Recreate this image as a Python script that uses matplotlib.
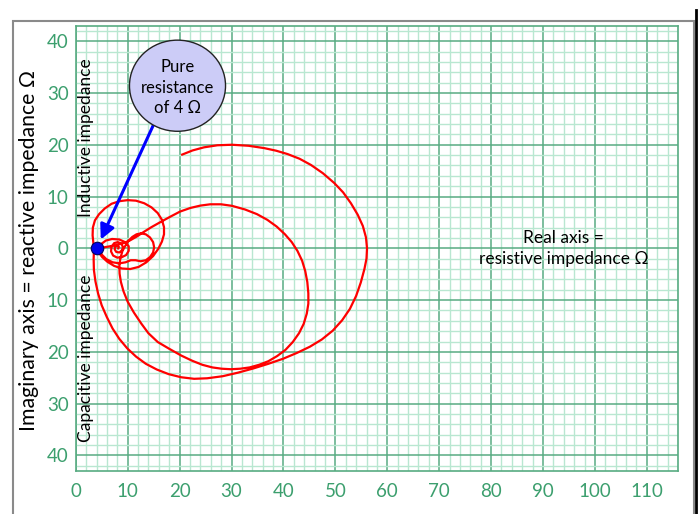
import matplotlib
matplotlib.use("Agg")
import matplotlib.pyplot as plt
from matplotlib.patches import Ellipse, Rectangle
from matplotlib.lines import Line2D
from matplotlib.ticker import MultipleLocator, FixedLocator

# impedance trace (ohms)
outer_x = [20.5, 22.5, 24.7, 27.3, 30.1, 33.3, 36.3, 38.6, 40.8, 43.1, 45.3, 47.6, 49.8, 51.5,
           53.0, 54.3, 55.3, 55.9, 56.1, 56.0, 55.6, 54.9, 54.0, 52.8, 51.3, 49.5, 47.4, 45.1,
           42.6, 40.0, 37.1, 34.2, 31.3, 28.3, 25.3, 22.8, 20.3, 17.9, 15.6, 13.5, 11.6, 9.9,
           8.4, 7.1, 6.0, 5.0, 4.3, 3.8, 3.5, 3.45, 3.5]
outer_y = [18.1, 18.9, 19.5, 19.9, 20.0, 19.8, 19.35, 18.85, 18.2, 17.3, 16.1, 14.5, 12.6, 10.8,
           8.7, 6.5, 4.3, 2.1, 0.0, -2.0, -4.0, -6.6, -9.2, -11.7, -13.9, -15.9, -17.6, -19.0,
           -20.2, -21.3, -22.3, -23.2, -24.0, -24.7, -25.1, -25.2, -24.9, -24.3, -23.4, -22.3,
           -20.9, -19.3, -17.5, -15.5, -13.3, -11.0, -8.7, -6.4, -4.2, -2.1, -0.4]

small_x = [3.4, 3.25, 3.3, 3.7, 4.5, 5.6, 6.9, 8.4, 10.0, 11.6, 13.2, 14.6, 15.8, 16.6, 17.0,
           17.0, 16.6, 15.9, 14.9, 13.6, 12.1, 10.5, 8.9, 7.4, 6.1, 5.1, 4.4, 4.0]
small_y = [1.0, 2.5, 4.0, 5.4, 6.6, 7.7, 8.6, 9.1, 9.3, 9.2, 8.7, 7.9, 6.8, 5.5, 4.1,
           2.7, 1.3, -0.1, -1.5, -2.7, -3.6, -4.0, -3.9, -3.4, -2.6, -1.7, -0.8, 0.0]

inner_x = [5.5, 7.2, 8.9, 10.4, 11.8, 13.0, 14.6, 16.2, 18.2, 20.1, 22.1, 24.0, 25.9, 28.0,
           30.1, 32.6, 34.9, 36.9, 38.7, 40.3, 41.6, 42.7, 43.6, 44.2, 44.6, 44.8, 44.8, 44.5,
           43.9, 43.0, 41.8, 40.4, 38.8, 37.1, 35.3, 33.5, 31.7, 29.9, 28.1, 26.3, 24.4, 22.4,
           20.3, 18.0, 15.8, 14.0, 12.6, 11.2, 10.0, 9.2, 8.7, 8.45, 8.4, 8.6, 9.0]
inner_y = [0.2, 0.5, 0.9, 1.5, 2.3, 3.1, 4.1, 5.0, 6.1, 7.1, 7.8, 8.25, 8.5, 8.5,
           8.2, 7.5, 6.6, 5.5, 4.2, 2.7, 1.2, -0.5, -2.4, -4.4, -6.5, -8.7, -10.7, -12.6,
           -14.6, -16.4, -18.1, -19.6, -20.8, -21.8, -22.5, -23.0, -23.25, -23.35, -23.25, -23.0,
           -22.5, -21.7, -20.7, -19.4, -18.1, -16.4, -14.5, -12.4, -10.3, -8.3, -6.5, -4.9,
           -3.4, -1.9, -0.5]

curl_x = [9.5, 10.1, 10.9, 11.7, 12.6, 13.5, 14.3, 14.9, 15.1, 14.9, 14.3, 13.5, 12.5, 11.5,
          10.6, 9.6, 8.4, 7.1, 5.9, 5.0, 4.7, 5.0, 5.8, 7.0, 8.4, 9.5, 10.2, 10.2, 9.7, 8.9,
          8.0, 7.2, 6.8, 6.9, 7.4, 8.1, 8.8, 9.1, 8.9, 8.4, 7.8, 7.5, 7.6, 8.0, 8.3, 8.2]
curl_y = [0.4, 1.4, 2.2, 2.7, 2.9, 2.7, 2.1, 1.2, 0.2, -0.8, -1.7, -2.3, -2.5, -2.3,
          -2.3, -2.7, -2.9, -2.7, -2.1, -1.2, -0.1, 0.9, 1.5, 1.8, 1.7, 1.2, 0.4, -0.5, -1.3,
          -1.7, -1.8, -1.4, -0.6, 0.3, 1.0, 1.2, 0.9, 0.2, -0.4, -0.8, -0.7, -0.2, 0.3, 0.5,
          0.3, 0.0]

pure_r = 4.0
x_ticks = [0, 10, 20, 30, 40, 50, 60, 70, 80, 90, 100, 110]
y_ticks = [-40, -30, -20, -10, 0, 10, 20, 30, 40]

FONT = ['Lato', 'DejaVu Sans']
plt.rcParams['font.family'] = FONT

GREEN_TXT = '#3c9f6e'
MAJOR = '#58ab82'
MINOR = '#b9e7d1'

fig = plt.figure(figsize=(6.98, 5.14), dpi=100)
ax = fig.add_axes([0.1085, 0.0837, 0.8629, 0.8664])

xs = outer_x + small_x + inner_x + curl_x
ys = outer_y + small_y + inner_y + curl_y
ax.plot(xs, ys, color='#ff0000', lw=1.6, zorder=3, solid_joinstyle='round')

ax.set_xlim(0, 116)
ax.set_ylim(-43, 43)
ax.xaxis.set_major_locator(FixedLocator(x_ticks))
ax.yaxis.set_major_locator(FixedLocator(y_ticks))
ax.xaxis.set_minor_locator(MultipleLocator(2))
ax.yaxis.set_minor_locator(MultipleLocator(2))
ax.set_yticklabels([str(abs(v)) for v in y_ticks])
ax.tick_params(which='both', length=0, colors=GREEN_TXT, labelsize=13.5)
ax.tick_params(axis='x', pad=9)
ax.tick_params(axis='y', pad=5)
ax.grid(which='minor', color=MINOR, lw=1.0, zorder=0)
ax.grid(which='major', color=MAJOR, lw=1.1, zorder=1)
ax.set_axisbelow(True)
for s in ax.spines.values():
    s.set_color(MAJOR)
    s.set_linewidth(1.2)

# bubble + arrow to the 4 ohm point
ax.annotate('', xy=(4.6, 1.2), xytext=(15.5, 25.0),
            arrowprops=dict(arrowstyle='-|>', color='#0000ff', lw=2.2, mutation_scale=22),
            zorder=4)
bub = Ellipse((19.6, 31.4), 18.5, 17.6, facecolor='#ccccf7', edgecolor='#222222', lw=1.0, zorder=5)
ax.add_patch(bub)
ax.text(19.6, 31.0, 'Pure\nresistance\nof 4 Ω', ha='center', va='center', fontsize=12,
        linespacing=1.35, zorder=6)
ax.plot([pure_r], [0], 'o', ms=9, color='#0000ee', mec='#000060', mew=0.8, zorder=6)

ax.text(1.9, 6.0, 'Inductive impedance', rotation=90, ha='center', va='bottom', fontsize=12.5)
ax.text(1.9, -37.4, 'Capacitive impedance', rotation=90, ha='center', va='bottom', fontsize=12.5)
ax.text(94, 0, 'Real axis =\nresistive impedance Ω', ha='center', va='center', fontsize=12.5,
        linespacing=1.4)

fig.text(0.042, 1 - 250 / 514, 'Imaginary axis = reactive impedance Ω', rotation=90,
         ha='center', va='center', fontsize=15.3)

# outer frame
fig.add_artist(Rectangle((0.0182, -0.02), 0.976, 0.999 - 0.02, transform=fig.transFigure,
                         fill=False, edgecolor='#8a8a8a', lw=1.5))
fig.add_artist(Line2D([0.9965, 0.9965], [0.0, 0.98], transform=fig.transFigure,
                      color='black', lw=2))

fig.savefig('out.png', dpi=100)
